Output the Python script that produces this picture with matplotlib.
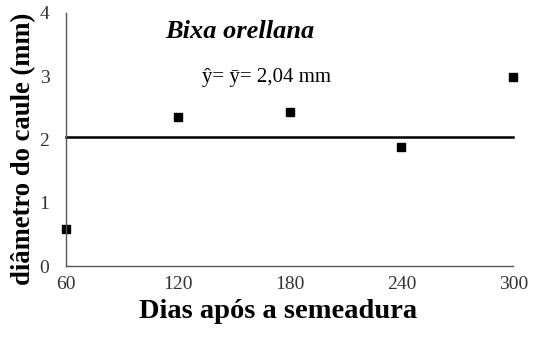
import matplotlib
matplotlib.use('Agg')
from matplotlib import pyplot as plt

dias = [60, 120, 180, 240, 300]
diametro = [0.59, 2.35, 2.43, 1.88, 2.98]
media = 2.04

plt.rcParams['font.family'] = ['Liberation Serif', 'DejaVu Serif']

fig = plt.figure(figsize=(5.33, 3.38), dpi=100)
ax = fig.add_axes([0.124, 0.213, 0.839, 0.749])

ax.plot(dias, diametro, 's', color='black', markersize=5.6)
ax.plot([dias[0], dias[-1]], [media, media], color='black', linewidth=1.8)

ax.set_xlim(60, 300)
ax.set_ylim(0, 4)
ax.set_xticks(dias)
ax.set_yticks([0, 1, 2, 3, 4])
ax.tick_params(length=0, labelsize=14, colors='#333333')
ax.tick_params(axis='x', pad=7)
ax.tick_params(axis='y', pad=12)

for s in ['top', 'right']:
    ax.spines[s].set_visible(False)
for s in ['left', 'bottom']:
    ax.spines[s].set_color('#555555')
    ax.spines[s].set_linewidth(1.0)
for ln in ax.lines:
    ln.set_clip_on(False)

ax.set_xlabel('Dias após a semeadura', fontsize=20.5, fontweight='bold')
ax.xaxis.set_label_coords(0.474, -0.13)
ax.set_ylabel('diâmetro do caule (mm)', fontsize=19.2, fontweight='bold')
ax.yaxis.set_label_coords(-0.066, 0.462)

ax.text(113, 3.6, 'Bixa orellana', fontsize=19, fontweight='bold', style='italic')
ax.text(133, 2.9, 'ŷ= ȳ= 2,04 mm', fontsize=15)

plt.savefig('out.png', dpi=100)
